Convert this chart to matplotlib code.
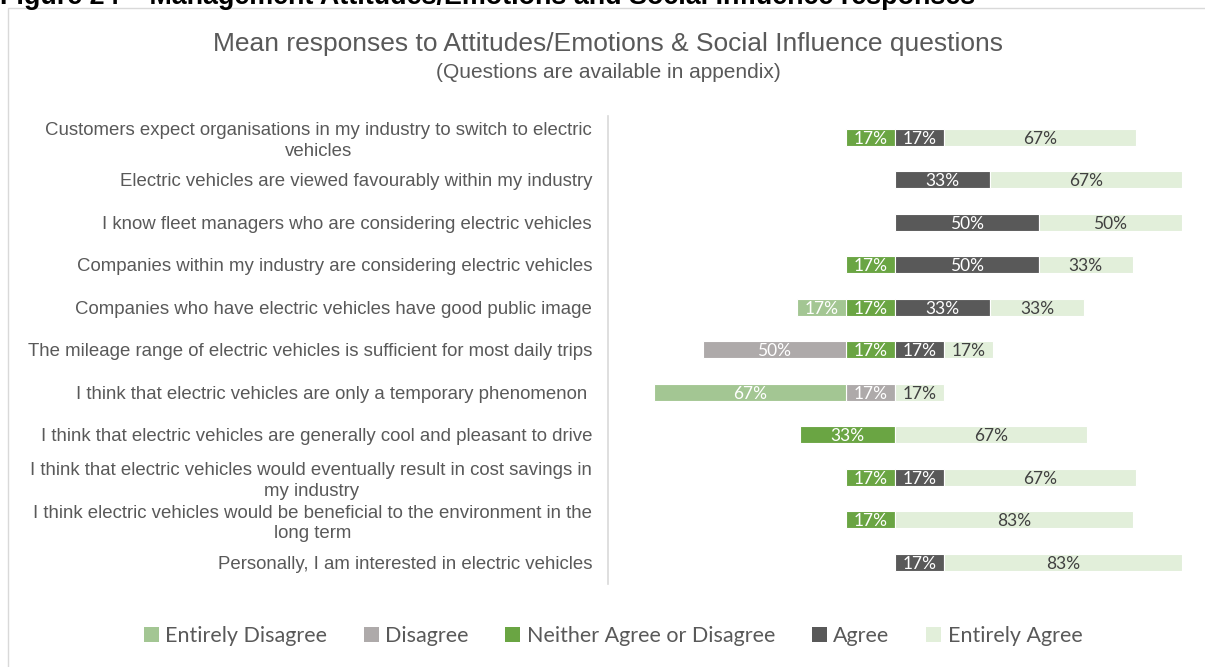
import matplotlib.pyplot as plt
from matplotlib.patches import Rectangle, Patch

# --- DATA ---
questions = [
    'Customers expect organisations in my industry to switch to electric\nvehicles',
    'Electric vehicles are viewed favourably within my industry',
    'I know fleet managers who are considering electric vehicles',
    'Companies within my industry are considering electric vehicles',
    'Companies who have electric vehicles have good public image',
    'The mileage range of electric vehicles is sufficient for most daily trips',
    'I think that electric vehicles are only a temporary phenomenon ',
    'I think that electric vehicles are generally cool and pleasant to drive',
    'I think that electric vehicles would eventually result in cost savings in\nmy industry',
    'I think electric vehicles would be beneficial to the environment in the\nlong term',
    'Personally, I am interested in electric vehicles',
]
entirely_disagree = [0, 0, 0, 0, 17, 0, 67, 0, 0, 0, 0]
disagree          = [0, 0, 0, 0, 0, 50, 17, 0, 0, 0, 0]
neither           = [17, 0, 0, 17, 17, 17, 0, 33, 17, 17, 0]
agree             = [17, 33, 50, 50, 33, 17, 0, 0, 17, 0, 17]
entirely_agree    = [67, 67, 50, 33, 33, 17, 17, 67, 67, 83, 83]

series_names = ['Entirely Disagree', 'Disagree', 'Neither Agree or Disagree', 'Agree', 'Entirely Agree']
colors = ['#A3C693', '#AEAAAA', '#6AA543', '#595959', '#E2EFDA']
text_colors = ['white', 'white', 'white', 'white', '#404040']

fig = plt.figure(figsize=(12.05, 6.67), dpi=100)
ax = fig.add_axes([608 / 1205, 1 - 583.5 / 667, 574 / 1205, 467.5 / 667])

y = list(range(len(questions)))
bar_h = 0.4

# negative side: Neither next to zero, then Disagree, then Entirely Disagree
neg_series = [(neither, 2), (disagree, 1), (entirely_disagree, 0)]
pos_series = [(agree, 3), (entirely_agree, 4)]

for i in y:
    left = 0
    for vals, k in neg_series:
        v = vals[i]
        if v == 0:
            continue
        ax.barh(i, -v, left=left, height=bar_h, color=colors[k], edgecolor='white', linewidth=0.8)
        ax.text(left - v / 2, i + 0.03, f'{v}%', ha='center', va='center', color=text_colors[k],
                fontsize=12.5, family='Lato')
        left -= v
    left = 0
    for vals, k in pos_series:
        v = vals[i]
        if v == 0:
            continue
        ax.barh(i, v, left=left, height=bar_h, color=colors[k], edgecolor='white', linewidth=0.8)
        ax.text(left + v / 2, i + 0.03, f'{v}%', ha='center', va='center', color=text_colors[k],
                fontsize=12.5, family='Lato')
        left += v

ax.set_xlim(-100, 100)
ax.set_ylim(len(questions) - 0.5, -0.5)
ax.set_yticks(y)
ax.set_yticklabels(questions, fontsize=13.4, color='#595959', family='Liberation Sans',
                   multialignment='center', linespacing=1.25)
ax.tick_params(axis='y', length=0, pad=11.5)
ax.set_xticks([])
for s in ['top', 'right', 'bottom']:
    ax.spines[s].set_visible(False)
ax.spines['left'].set_color('#D9D9D9')
ax.spines['left'].set_linewidth(1.2)

# titles
fig.text(608 / 1205, 1 - 44 / 667, 'Mean responses to Attitudes/Emotions & Social Influence questions',
         ha='center', va='center', fontsize=19, color='#595959', family='Liberation Sans')
fig.text(608 / 1205, 1 - 72 / 667, '(Questions are available in appendix)',
         ha='center', va='center', fontsize=15, color='#595959', family='Liberation Sans')

# cut-off figure caption at the very top (as in the source page)
fig.text(0.0, 1 - 4 / 667, 'Figure 24 \u2013 Management Attitudes/Emotions and Social Influence responses',
         ha='left', va='baseline', fontsize=19.4, fontweight='bold', color='black', family='Liberation Sans')

# chart frame
fig.patches.append(Rectangle((8 / 1205, -0.02), 1.1, 1 - 8 / 667 + 0.02, transform=fig.transFigure,
                             fill=False, edgecolor='#D9D9D9', linewidth=1))

handles = [Patch(facecolor=c, edgecolor='none') for c in colors]
fig.legend(handles, series_names, loc='center', bbox_to_anchor=(613 / 1205, 1 - 636 / 667), ncol=5,
           frameon=False, prop={'family': 'Lato', 'size': 15.5}, labelcolor='#595959',
           handlelength=0.7, handleheight=0.7, handletextpad=0.3, columnspacing=1.7)

plt.savefig('out.png', dpi=100)
